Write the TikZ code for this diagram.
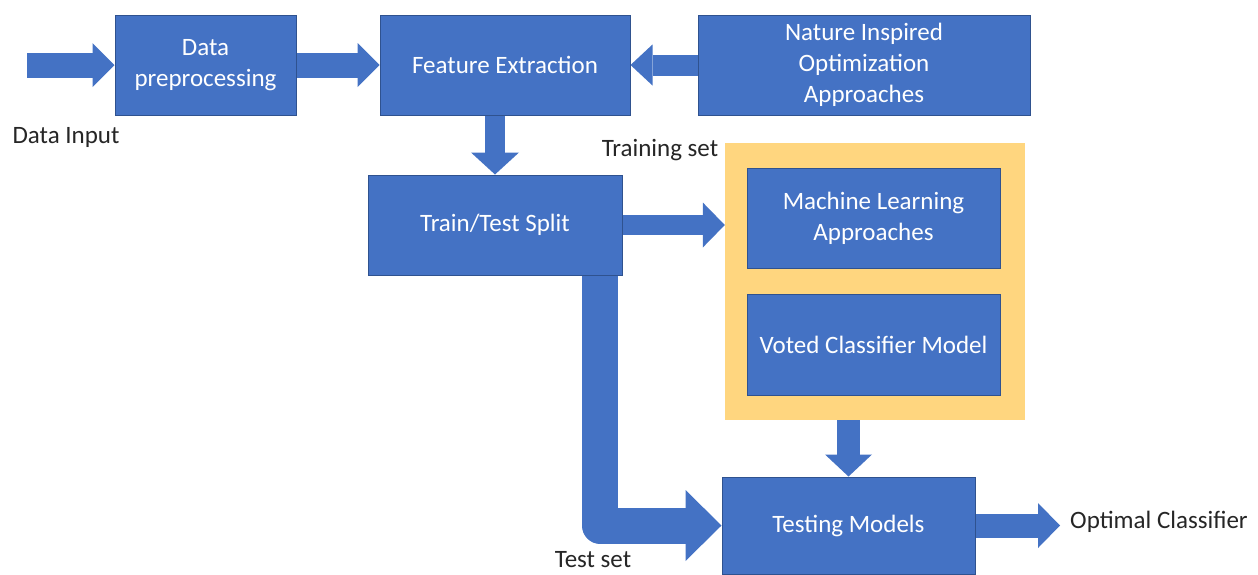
\documentclass[tikz,border=0pt]{standalone}
\usepackage{fontspec}
\setmainfont{Carlito}
\usetikzlibrary{arrows.meta,calc}
\definecolor{boxblue}{HTML}{4472C4}
\definecolor{boxedge}{HTML}{2F528F}
\definecolor{goldfill}{HTML}{FFD67F}
\definecolor{labelgray}{HTML}{262626}
\begin{document}
\begin{tikzpicture}[x=1pt,y=-1pt,
  bluebox/.style={rectangle, fill=boxblue, draw=boxedge, line width=1pt, inner sep=0pt,
    text=white, align=center, font=\fontsize{25}{31}\selectfont},
  lbl/.style={text=labelgray, inner sep=0pt, font=\fontsize{25}{31}\selectfont},
  barrow/.style 2 args={draw=boxblue, line width=#1,
    -{Triangle[length=22pt,width=#2,line width=0pt]}}
]
\useasboundingbox (0,0) rectangle (1258,574);
\fill[white] (0,0) rectangle (1258,574);

% gold container
\node[rectangle, fill=goldfill, inner sep=0pt, minimum width=300pt, minimum height=277pt] (gold) at (875,281.5) {};

% boxes
\node[bluebox, minimum width=181pt, minimum height=100pt] (dp) at (205.5,65) {Data\\preprocessing};
\node[bluebox, minimum width=250pt, minimum height=100pt] (fe) at (505,65) {Feature Extraction};
\node[bluebox, minimum width=332pt, minimum height=100pt] (nat) at (864,65) {Nature Inspired\\Optimization\\Approaches};
\node[bluebox, minimum width=254pt, minimum height=100pt] (ts) at (495,225) {Train/Test Split};
\node[bluebox, minimum width=253pt, minimum height=100pt] (ml) at (873.5,218) {Machine Learning\\Approaches};
\node[bluebox, minimum width=253pt, minimum height=101pt] (vc) at (873.5,344.5) {Voted Classifier Model};
\node[bluebox, minimum width=253pt, minimum height=97pt] (tm) at (848.5,525.5) {Testing Models};

% labels
\node[lbl] (din) at (66,137) {Data Input};
\node[lbl] (trs) at (660,150) {Training set};
\node[lbl] (tes) at (593,560) {Test set};
\node[lbl, anchor=west] (opt) at (1070,522) {Optimal Classifier};

\coordinate (start) at (27,65);
\coordinate (oend) at (1060,522);

% arrows
\draw[barrow={25pt}{44pt}] (start) -- (dp.west);
\draw[barrow={25pt}{44pt}] (dp.east) -- (dp.east -| fe.west);
\draw[barrow={21pt}{41pt}] (nat.west) -- (nat.west -| fe.east);
\draw[barrow={20pt}{48pt}] (ts.north |- fe.south) -- (ts.north);
\draw[barrow={20pt}{45pt}] (ts.east) -- (ts.east -| gold.west);
\draw[barrow={23pt}{47pt}] (tm.north |- gold.south) -- (tm.north);
\draw[draw=boxblue, line width=36pt, line join=round,
  -{Triangle[length=36pt,width=71pt,line width=0pt]}]
  ($(ts.south)+(105,0)$) |- (tm.west);
\draw[barrow={24pt}{45pt}] (tm.east) -- (tm.east -| oend);
\end{tikzpicture}
\end{document}
